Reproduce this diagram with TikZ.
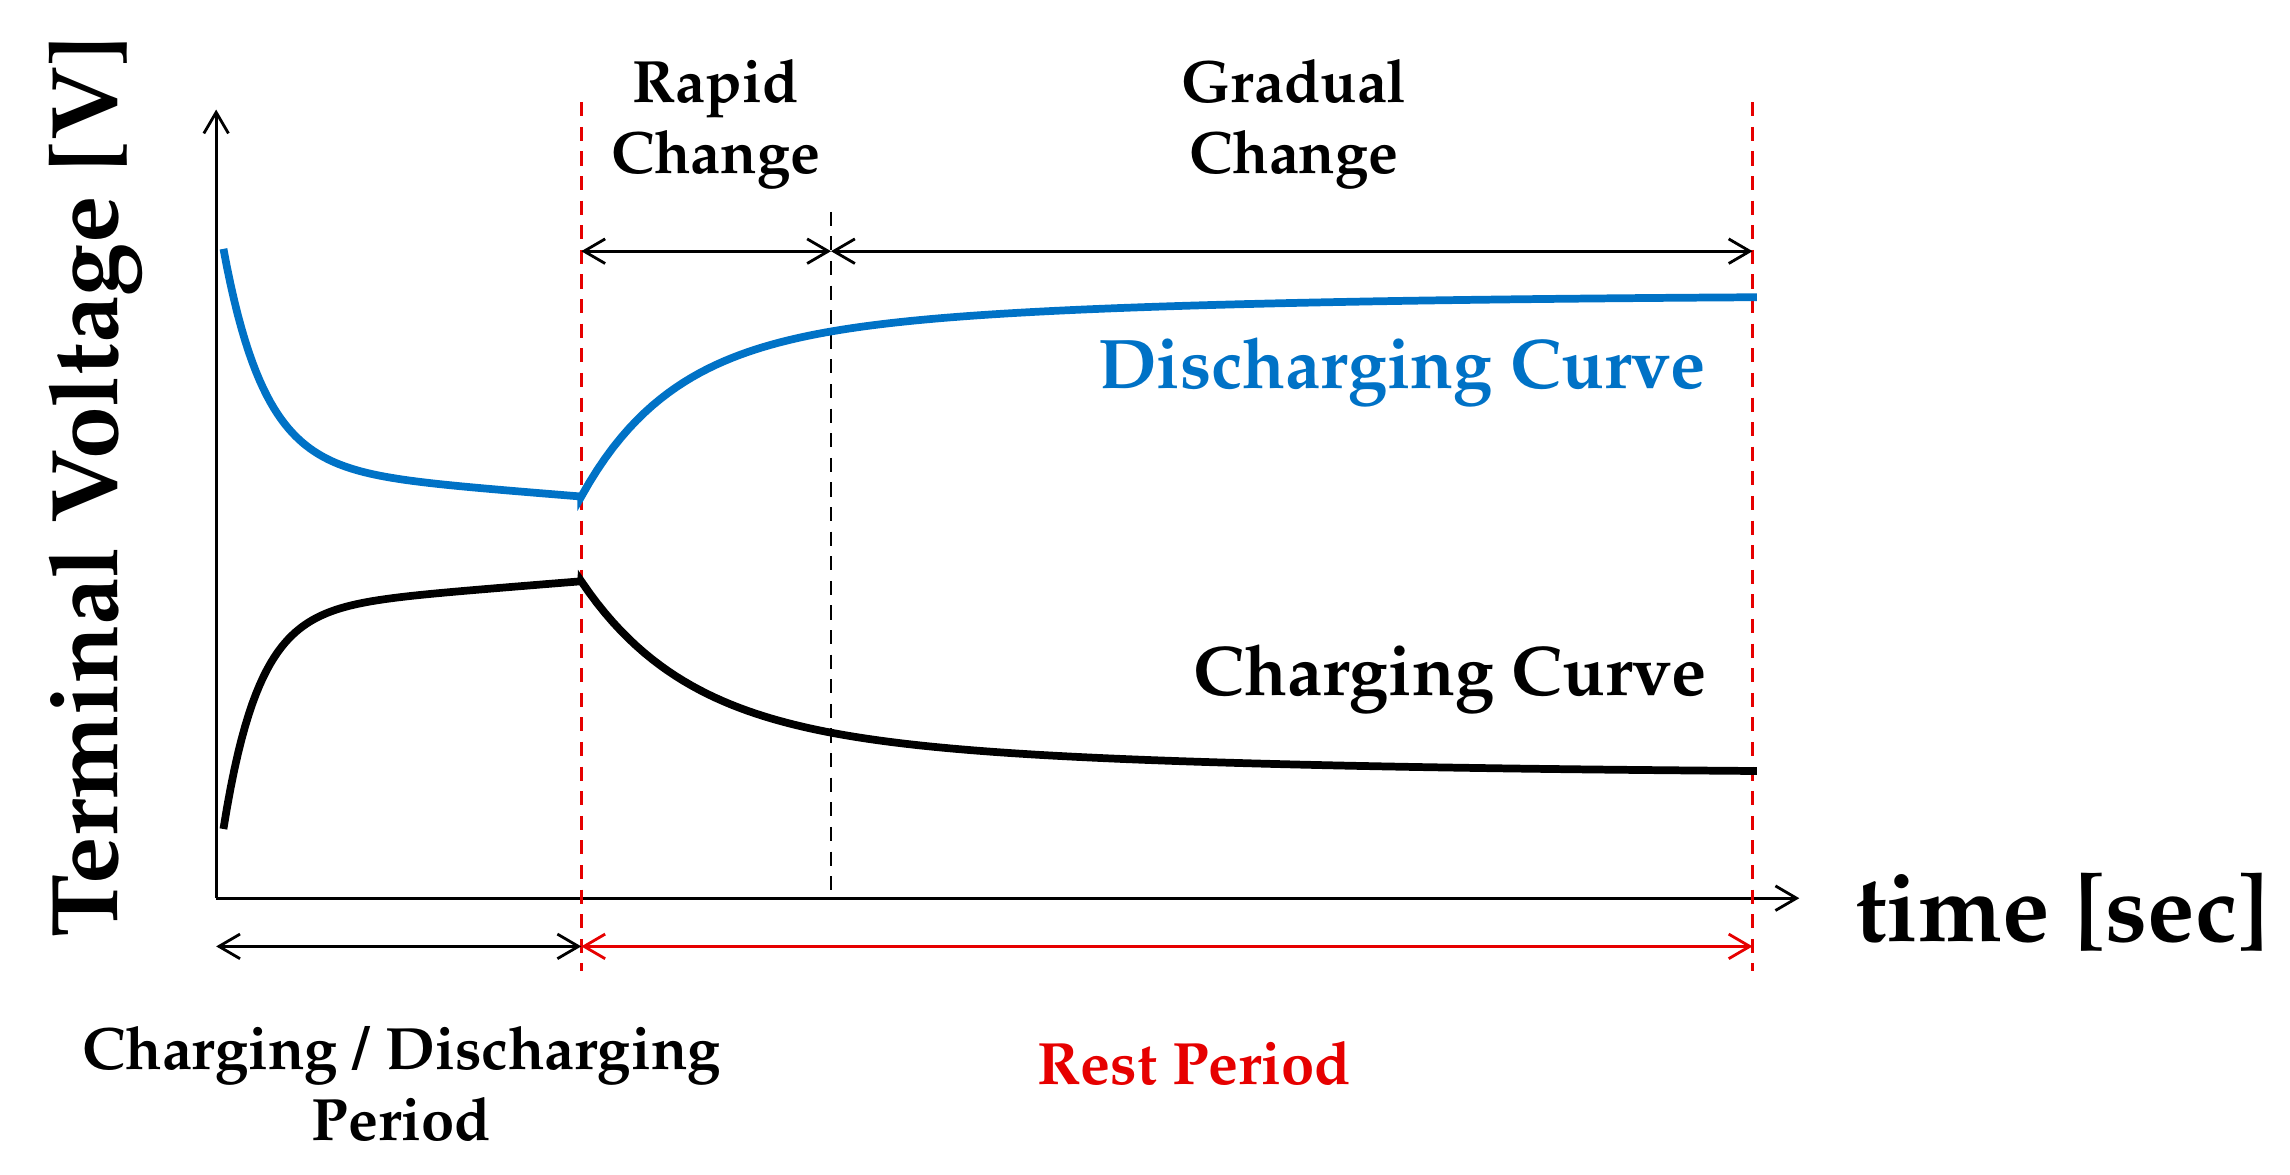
\documentclass[tikz,border=0pt]{standalone}
\usepackage[T1]{fontenc}
\usepackage{mathpazo}
\usetikzlibrary{arrows.meta}
\definecolor{cblue}{RGB}{0,114,198}
\definecolor{cred}{RGB}{230,0,0}
\begin{document}
\begin{tikzpicture}[x=0.014605cm,y=-0.014605cm,
  ax/.style={line width=0.8pt,-{Straight Barb[length=6pt,width=7pt]}},
  dim/.style={line width=0.8pt,{Straight Barb[length=6pt,width=7pt]}-{Straight Barb[length=6pt,width=7pt]}},
  rdash/.style={cred,line width=0.8pt,dash pattern=on 4pt off 3pt},
  curve/.style={line width=2.2pt},
  lbl/.style={font=\bfseries\fontsize{17}{20}\selectfont,align=center}]
\useasboundingbox (0,0) rectangle (1568,804);
\coordinate (O) at (148,615);
\coordinate (Y) at (148,75);
\coordinate (X) at (1232,615);
\draw[ax] (O) -- (Y);
\draw[ax] (O) -- (X);
\coordinate (r1t) at (398,70); \coordinate (r1b) at (398,665);
\coordinate (r2t) at (1200,70); \coordinate (r2b) at (1200,665);
\coordinate (bdt) at (569,145); \coordinate (bdb) at (569,615);
\draw[rdash] (r1t) -- (r1b);
\draw[rdash] (r2t) -- (r2b);
\draw[line width=0.8pt,dash pattern=on 4pt off 3pt] (bdt) -- (bdb);
\coordinate (a1) at (398,172); \coordinate (a2) at (569,172); \coordinate (a3) at (1200,172);
\draw[dim] (a1) -- (a2);
\draw[dim] (a2) -- (a3);
\coordinate (b1) at (148,648); \coordinate (b2) at (398,648); \coordinate (b3) at (1200,648);
\draw[dim] (b1) -- (b2);
\draw[dim,cred] (b2) -- (b3);
\draw[curve,cblue] plot[domain=153:398,samples=100] (\x,{340-0.08*(398-\x)-150*exp(-(\x-153)/28)})
  -- plot[domain=398:1203,samples=150] (\x,{202-0.00*\x+100*exp(-(\x-398)/60)+38*exp(-(\x-398)/250)});
\draw[curve] plot[domain=153:398,samples=100] (\x,{398+0.08*(398-\x)+150*exp(-(\x-153)/24)})
  -- plot[domain=398:1203,samples=150] (\x,{530-95*exp(-(\x-398)/70)-37*exp(-(\x-398)/280)});
\node[rotate=90,font=\bfseries\fontsize{27}{30}\selectfont] (yl) at (65,333) {Terminal Voltage [V]};
\node[font=\bfseries\fontsize{27}{30}\selectfont] (xl) at (1412,625) {time [sec]};
\node[lbl] (rc) at (490,85) {Rapid\\Change};
\node[lbl] (gc) at (886,85) {Gradual\\Change};
\node[font=\bfseries\fontsize{20}{22}\selectfont,text=cblue] (dc) at (960,255) {Discharging Curve};
\node[font=\bfseries\fontsize{20}{22}\selectfont] (cc) at (993,465) {Charging Curve};
\node[lbl] (cp) at (275,742) {Charging / Discharging\\Period};
\node[lbl,text=cred] (rp) at (818,728) {Rest Period};
\end{tikzpicture}
\end{document}
